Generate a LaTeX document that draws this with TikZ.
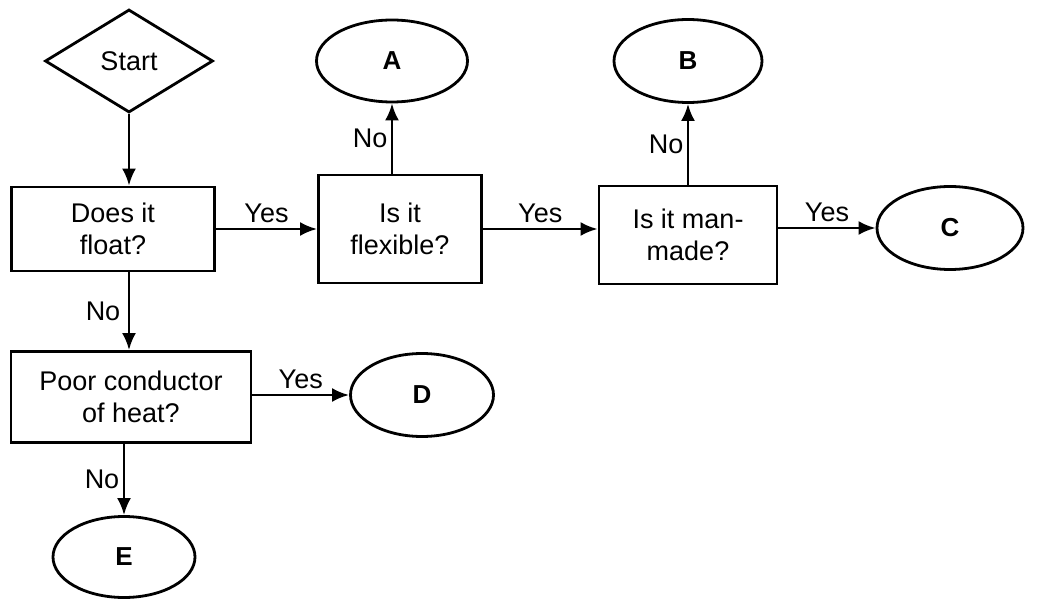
\documentclass[tikz,border=0pt]{standalone}
\usepackage{fontspec}
\setmainfont{Liberation Sans}
\usetikzlibrary{shapes.geometric,arrows.meta}

\begin{document}
\begin{tikzpicture}[x=1pt,y=-1pt,
    every node/.style={font=\fontsize{27}{32}\selectfont},
    box/.style={draw,line width=2.8pt,align=center,inner sep=0pt},
    term/.style={draw,ellipse,line width=2.8pt,inner sep=0pt,font=\fontsize{26}{30}\selectfont\bfseries},
    flow/.style={line width=2.8pt,-{Latex[length=17pt,width=14pt]}}
]
\useasboundingbox (0,0) rectangle (1046,601);

% Start
\node[draw,diamond,line width=2.8pt,inner sep=0pt,minimum width=168pt,minimum height=103pt] (start) at (129,61) {Start};

% Questions
\node[box,minimum width=203pt,minimum height=84pt] (float) at (113,229) {Does it\\float?};
\node[box,minimum width=163pt,minimum height=108pt] (flex) at (400,229) {Is it\\flexible?};
\node[box,minimum width=178pt,minimum height=98pt] (man) at (688,235) {Is it man-\\made?};
\node[box,minimum width=240pt,minimum height=91pt] (poor) at (131,397) {Poor conductor\\of heat?};

% Outcomes
\node[term,minimum width=151pt,minimum height=82pt] (A) at (392,61) {A};
\node[term,minimum width=148pt,minimum height=83pt] (B) at (688,61) {B};
\node[term,minimum width=146pt,minimum height=83pt] (C) at (950,228) {C};
\node[term,minimum width=143pt,minimum height=83pt] (D) at (422,395) {D};
\node[term,minimum width=142pt,minimum height=81pt] (E) at (124,557) {E};

% Arrows
\draw[flow] (start.south) -- (start.south |- float.north);
\draw[flow] (float.east) -- node[above=2pt] {Yes} (float.east -| flex.west);
\draw[flow] (flex.east) -- node[above=2pt] {Yes} (flex.east -| man.west);
\draw[flow] (man.east |- C.west) -- node[above=2pt] {Yes} (C.west);
\draw[flow] (A.south |- flex.north) -- node[left] {No} (A.south);
\draw[flow] (B.south |- man.north) -- node[left] {No} (B.south);
\draw[flow] (start.south |- float.south) -- node[left=4pt] {No} (start.south |- poor.north);
\draw[flow] (poor.east |- D.west) -- node[above=2pt] {Yes} (D.west);
\draw[flow] (E.north |- poor.south) -- node[left] {No} (E.north);

\end{tikzpicture}
\end{document}
